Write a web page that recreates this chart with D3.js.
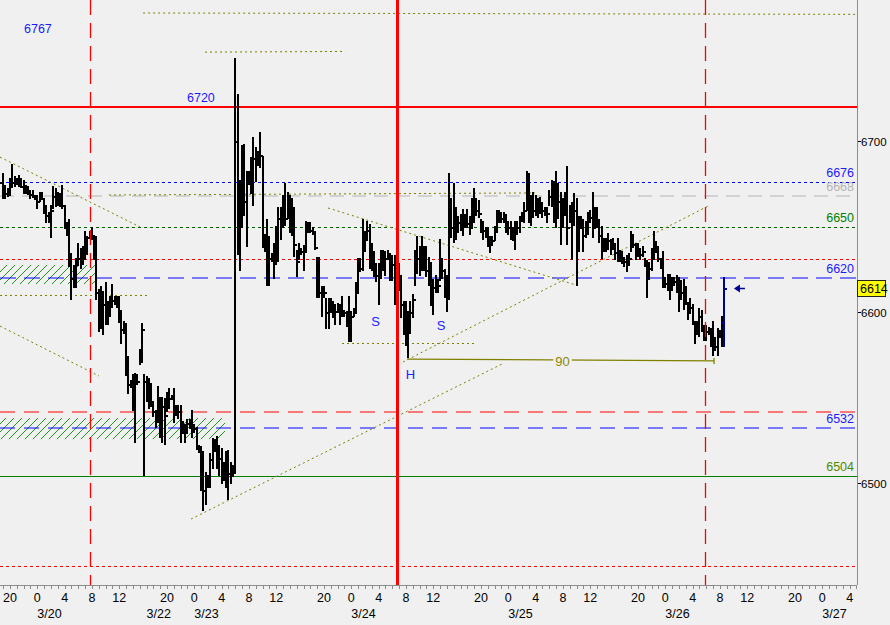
<!DOCTYPE html>
<html><head><meta charset="utf-8">
<script src="https://cdn.jsdelivr.net/npm/d3@7/dist/d3.min.js"></script>
<style>body{margin:0;background:#f0f0f0;}svg{display:block;}</style>
</head><body>
<svg id="chart" width="890" height="625"></svg>
<script>
// ---------------- DATA ----------------
// 20-minute OHLC bars; time measured in session hours from the first "20" mark
const barStartHour = -1;
const barStepHours = 1 / 3;
const firstOpen = 6676;
const barHigh = [
6681,6674,6672,6678,6686,6679,6678,6680,6678,6677,
6674,6673,6671,6671,6668,6668,6670,6670,6665,6662,
6658,6662,6673,6672,6670,6669,6674,6662,6652,6654,
6634,6627,6631,6640,6637,6638,6647,6644,6647,6649,
6644,6644,6613,6615,6612,6617,6606,6609,6616,6609,
6609,6609,6601,6594,6593,6574,6560,6563,6564,6563,
6578,6593,6563,6562,6561,6558,6547,6542,6556,6550,
6550,6549,6553,6555,6551,6555,6545,
6545,6545,6536,6534,6537,6537,6542,6534,6532,6522,6521,6518,6506,6504,6517,6526,6525,6527,6522,6520,6512,6518,6519,6512,6510,6748,
6727,6677,6697,6698,6682,6682,6690,6702,6696,6694,
6705,6691,6645,6654,6644,6634,6640,6650,6661,6661,
6668,6675,6670,6668,6666,6661,6636,6640,6637,6639,
6653,6652,6652,6649,6647,6632,6632,6615,6615,6608,
6608,6608,6606,6604,6605,6604,6609,6601,6600,6609,
6600,6602,6617,
6631,6631,6654,6647,6653,6651,6640,6635,6628,6628,
6636,6636,6635,6636,6634,6633,6633,6629,6628,6621,
6606,6606,6600,6606,6610,6636,6644,6638,6644,6638,
6638,6632,6629,6619,6621,6619,6642,6631,6625,6621,
6681,6666,6675,6661,6656,6657,6660,6657,6660,6656,
6666,6672,6666,6665,6654,6653,6649,6649,6644,6644,
6650,6659,6659,6658,6658,6657,6653,6653,6649,6653,
6653,6656,6658,6664,6682,6681,6668,6670,6668,6666,
6667,6664,
6661,6661,6671,6677,6676,6682,6675,6670,6666,6670,
6685,6662,6664,6669,6666,6656,6656,6654,6653,6658,
6659,6670,6661,6661,6654,6650,6643,6643,6646,6642,
6643,6640,6643,6636,6635,6632,6633,6634,6647,6645,
6640,6640,6637,6638,6631,6630,6629,6637,6647,6641,
6638,6631,6635,6620,6622,6622,6620,6620,6621,6620,
6618,6619,6615,6605,6608,6604,6593,6594,6602,6601,
6592,6592,6591,6590,6594,6585,6590,6589,6597,6620
];
const barLow = [
6667,6667,6668,6669,6673,6674,6675,6674,6673,6670,
6670,6669,6667,6668,6666,6661,6665,6666,6658,6653,
6653,6644,6661,6662,6663,6662,6661,6649,6645,6627,
6608,6615,6615,6628,6626,6628,6631,6634,6644,6643,
6631,6608,6589,6591,6587,6593,6593,6598,6603,6605,
6603,6594,6582,6588,6563,6553,6556,6543,6524,6558,
6570,6571,6505,6548,6544,6545,6539,6533,6536,6527,
6524,6523,6542,6544,6549,6536,6540,
6538,6524,6530,6524,6530,6532,6527,6530,6520,6518,6496,6484,6488,6498,6498,6509,6519,6509,6505,6500,6502,6498,6491,6500,6504,6506,
6634,6625,6650,6657,6639,6675,6670,6663,6677,6686,
6685,6638,6636,6616,6616,6630,6620,6628,6630,6643,
6650,6651,6655,6647,6645,6633,6621,6631,6634,6625,
6635,6647,6647,6646,6637,6609,6609,6598,6609,6591,
6591,6600,6597,6593,6600,6593,6598,6598,6592,6583,
6583,6598,6600,
6612,6624,6625,6636,6642,6626,6625,6621,6618,6605,
6620,6625,6622,6631,6619,6619,6605,6625,6613,6597,
6587,6581,6574,6588,6597,6616,6623,6622,6625,6625,
6621,6616,6604,6599,6612,6612,6619,6620,6609,6601,
6608,6644,6641,6643,6647,6648,6645,6650,6650,6646,
6649,6653,6657,6656,6647,6643,6644,6639,6635,6640,
6642,6647,6653,6653,6653,6647,6646,6643,6642,6637,
6646,6647,6654,6653,6660,6653,6651,6656,6657,6656,
6658,6656,
6657,6653,6663,6662,6653,6650,6655,6640,6650,6657,
6640,6653,6631,6651,6616,6636,6650,6636,6644,6646,
6653,6644,6650,6650,6641,6632,6636,6636,6637,6634,
6637,6631,6630,6630,6629,6627,6624,6629,6636,6638,
6631,6633,6631,6633,6627,6609,6620,6625,6631,6635,
6630,6626,6615,6615,6613,6608,6613,6616,6612,6601,
6608,6602,6605,6596,6601,6593,6582,6588,6586,6589,
6584,6584,6587,6580,6575,6578,6575,6586,6580,6580
];
const barClose = [
6674,6670,6669,6676,6676,6677,6676,6678,6674,6672,
6672,6670,6669,6668,6667,6665,6668,6667,6660,6657,
6656,6660,6668,6665,6668,6664,6663,6650,6648,6630,
6620,6620,6628,6632,6634,6636,6640,6644,6645,6645,
6640,6612,6610,6600,6605,6598,6600,6606,6607,6607,
6605,6598,6590,6590,6570,6558,6558,6560,6560,6560,
6575,6590,6560,6555,6558,6548,6542,6538,6550,6535,
6545,6540,6548,6550,6550,6545,6542,
6542,6530,6533,6530,6535,6534,6534,6532,6521,6521,6500,6496,6500,6502,6514,6520,6520,6512,6515,6507,6507,6510,6506,6507,6507,6700,
6640,6667,6690,6665,6680,6678,6685,6690,6688,6691,
6692,6640,6638,6620,6632,6632,6635,6645,6655,6660,
6658,6655,6668,6660,6650,6640,6630,6635,6636,6638,
6652,6650,6648,6647,6638,6630,6612,6610,6612,6600,
6604,6602,6600,6601,6602,6600,6600,6600,6598,6590,
6598,6600,6612,
6628,6626,6640,6645,6648,6630,6632,6628,6622,6625,
6630,6628,6632,6633,6626,6628,6628,6627,6618,6605,
6595,6590,6598,6600,6608,6630,6632,6634,6630,6636,
6625,6620,6610,6615,6618,6616,6630,6625,6615,6618,
6660,6650,6660,6655,6653,6655,6652,6655,6652,6650,
6660,6664,6660,6658,6650,6648,6646,6642,6640,6642,
6648,6655,6656,6655,6656,6650,6650,6646,6645,6650,
6650,6654,6656,6660,6670,6660,6662,6660,6662,6660,
6662,6660,
6659,6658,6668,6672,6660,6670,6665,6660,6662,6665,
6650,6660,6655,6660,6650,6650,6652,6645,6650,6655,
6656,6650,6655,6652,6645,6640,6640,6638,6642,6638,
6640,6635,6634,6632,6632,6630,6628,6632,6640,6640,
6635,6636,6634,6636,6628,6620,6626,6635,6640,6638,
6632,6628,6618,6617,6618,6616,6618,6618,6617,6610,
6612,6610,6606,6600,6603,6595,6588,6590,6598,6592,
6588,6589,6589,6584,6582,6580,6586,6588,6594,6614
];

// axis
const hourLabelOffsets = [0, 4, 8, 12, 16];
const hourLabelTexts = ["20", "0", "4", "8", "12"];
const sessionHours = 23;
const dateLabels = ["3/20", "3/22", "3/23", "3/24", "3/25", "3/26", "3/27"];
const dateHours = [4, 20, 27, 50, 73, 96, 119];
const priceTicks = [6500, 6600, 6700];

// horizontal levels
const levelPrices = [6720, 6676, 6668, 6650, 6631, 6620, 6541.5, 6532, 6504, 6451.5];
const levelLabels = ["6720", "6676", "6668", "6650", "", "6620", "", "6532", "6504", ""];
const topNote = "6767";
const topNotePrice = 6767;

// vertical markers (session hours)
const markerHours = [11.72, 56.69, 101.82];

// trend lines: [hour1, price1, hour2, price2]
const trendHour1 = [-1.465, -1.465, -1.465, 14.5, 19.5, 28.57, 46.59, 57.57, 26.52, 48.64];
const trendPrice1 = [6690.8, 6591.9, 6609.8, 6668.6, 6775.1, 6752.2, 6661.0, 6570.9, 6479.0, 6581.7];
const trendHour2 = [19.05, 13.04, 20.07, 76.9, 123.8, 49.1, 82.92, 102.26, 72.08, 68.12];
const trendPrice2 = [6649.9, 6562.7, 6609.8, 6669.8, 6774.3, 6752.6, 6615.9, 6662.1, 6569.7, 6581.7];

// "90" measured move line
const measureHour1 = 58.16, measureHour2 = 103.14;
const measurePrice1 = 6572.6, measurePrice2 = 6571.5;
const measureText = "90";

// hatched zones
const zoneHour1 = [-1.465, -1.465];
const zoneHour2 = [12.75, 31.5];
const zonePriceTop = [6627.6, 6538.1];
const zonePriceBottom = [6616.5, 6525.8];

// pattern annotations
const annotTexts = ["S", "S", "H"];
const annotHours = [53.55, 63.14, 58.67];
const annotPrices = [6592.2, 6589.6, 6561];

const lastPrice = 6614;

// ---------------- DRAW ----------------
const svg = d3.select("#chart");
const plotW = 857, plotH = 585;
const x = d3.scaleLinear().domain([-1.465, 124.08]).range([0, plotW]);
const y = d3.scaleLinear().domain([6782.7, 6440.4]).range([0, plotH]);
const FONT = "'Liberation Sans', Arial, sans-serif";

svg.append("rect").attr("width", 890).attr("height", 625).attr("fill", "#f0f0f0");

const defs = svg.append("defs");
const pat = defs.append("pattern").attr("id", "hatch").attr("patternUnits", "userSpaceOnUse")
  .attr("width", 8).attr("height", 8);
pat.append("rect").attr("width", 8).attr("height", 8).attr("fill", "#f0f0f0");
pat.append("path").attr("d", "M0,8 L8,0 M-2,2 L2,-2 M6,10 L10,6")
  .attr("stroke", "#0a8a0a").attr("stroke-width", 0.9);
defs.append("clipPath").attr("id", "plotclip").append("rect").attr("width", plotW).attr("height", plotH);

const g = svg.append("g").attr("clip-path", "url(#plotclip)");

// hatched zones
g.selectAll("rect.zone").data(zoneHour1.map((h, i) => i)).join("rect")
  .attr("x", i => x(zoneHour1[i])).attr("width", i => x(zoneHour2[i]) - x(zoneHour1[i]))
  .attr("y", i => y(zonePriceTop[i])).attr("height", i => y(zonePriceBottom[i]) - y(zonePriceTop[i]))
  .attr("fill", "url(#hatch)");

// horizontal levels
const levelStyles = [
  { c: "#ff0000", w: 2, d: null },
  { c: "#0000ff", w: 1, d: "3,3" },
  { c: "#b4b4b4", w: 1.2, d: "14,8" },
  { c: "#006400", w: 1, d: "3,3" },
  { c: "#ff0000", w: 1, d: "3,3" },
  { c: "#0000ff", w: 1.2, d: "16,8" },
  { c: "#ff0000", w: 1.2, d: "15,9" },
  { c: "#0000ff", w: 1.2, d: "15,9" },
  { c: "#008000", w: 1, d: null },
  { c: "#ff0000", w: 1, d: "3,3" }
];
const labelColors = ["#1a1aff", "#1a1aff", "#b4b4b4", "#008000", "", "#1a1aff", "", "#1a1aff", "#4d8a00", ""];
levelPrices.forEach((p, i) => {
  const st = levelStyles[i];
  const yy = Math.round(y(p)) + (st.w === 1 ? 0.5 : 0);
  g.append("line").attr("x1", 0).attr("x2", plotW).attr("y1", yy).attr("y2", yy)
    .attr("stroke", st.c).attr("stroke-width", st.w).attr("stroke-dasharray", st.d);
});

// trend lines
g.selectAll("line.trend").data(trendHour1.map((h, i) => i)).join("line")
  .attr("x1", i => x(trendHour1[i])).attr("y1", i => y(trendPrice1[i]))
  .attr("x2", i => x(trendHour2[i])).attr("y2", i => y(trendPrice2[i]))
  .attr("stroke", "#808000").attr("stroke-width", 1).attr("stroke-dasharray", "2,3");

// measured line with "90"
const mx1 = x(measureHour1), mx2 = x(measureHour2);
const my1 = y(measurePrice1), my2 = y(measurePrice2);
g.append("line").attr("x1", mx1).attr("y1", my1).attr("x2", mx2).attr("y2", my2)
  .attr("stroke", "#808000").attr("stroke-width", 1.3);
g.append("line").attr("x1", mx2).attr("y1", my2 - 3).attr("x2", mx2).attr("y2", my2 + 3)
  .attr("stroke", "#808000").attr("stroke-width", 1.3);
const mt = svg.append("text").attr("x", (mx1 + mx2) / 2 + 2).attr("y", (my1 + my2) / 2 + 5.5)
  .attr("text-anchor", "middle").attr("font-family", FONT).attr("font-size", 13)
  .attr("fill", "#8a8a00").text(measureText);
const bb = mt.node().getBBox();
svg.insert("rect", () => mt.node()).attr("x", bb.x - 2).attr("y", (my1 + my2) / 2 - 1)
  .attr("width", bb.width + 4).attr("height", 3).attr("fill", "#f0f0f0");

// bars
const bars = barHigh.map((h, i) => ({
  t: barStartHour + i * barStepHours, h, l: barLow[i], c: barClose[i],
  o: i ? barClose[i - 1] : firstOpen, last: i === barHigh.length - 1
}));
const bg = g.append("g").attr("shape-rendering", "crispEdges");
bars.forEach(b => {
  const bx = Math.round(x(b.t));
  const col = b.last ? "#000090" : "#000";
  bg.append("line").attr("x1", bx).attr("x2", bx)
    .attr("y1", Math.round(y(b.h)) - 1).attr("y2", Math.round(y(b.l)) + 1)
    .attr("stroke", col).attr("stroke-width", 2);
  bg.append("line").attr("x1", bx - 3).attr("x2", bx).attr("y1", Math.round(y(b.o)) + 1).attr("y2", Math.round(y(b.o)) + 1)
    .attr("stroke", col).attr("stroke-width", 2);
  bg.append("line").attr("x1", bx).attr("x2", bx + 3).attr("y1", Math.round(y(b.c)) + 1).attr("y2", Math.round(y(b.c)) + 1)
    .attr("stroke", col).attr("stroke-width", 2);
});

// vertical markers
const markerStyles = [
  { w: 1.3, d: "15,8" },
  { w: 3, d: null },
  { w: 1.3, d: "15,8" }
];
markerHours.forEach((h, i) => {
  const xx = Math.round(x(h)) + 0.5;
  g.append("line").attr("x1", xx).attr("x2", xx).attr("y1", 0).attr("y2", plotH)
    .attr("stroke", "#ff0000").attr("stroke-width", markerStyles[i].w)
    .attr("stroke-dasharray", markerStyles[i].d);
});

// level labels
levelPrices.forEach((p, i) => {
  if (!levelLabels[i]) return;
  const isLeft = i === 0;
  svg.append("text")
    .attr("x", isLeft ? x(25.93) : 854)
    .attr("y", y(p) - 5)
    .attr("text-anchor", isLeft ? "start" : "end")
    .attr("font-family", FONT).attr("font-size", 12.5)
    .attr("fill", labelColors[i]).text(levelLabels[i]);
});
svg.append("text").attr("x", x(2.05)).attr("y", y(topNotePrice) + 6)
  .attr("font-family", FONT).attr("font-size", 12.5).attr("fill", "#1a1aff").text(topNote);

// S / H annotations
annotTexts.forEach((s, i) => {
  svg.append("text").attr("x", x(annotHours[i])).attr("y", y(annotPrices[i]))
    .attr("text-anchor", "middle").attr("font-family", FONT).attr("font-size", 13)
    .attr("fill", "#2222ff").text(s);
});

// last-price arrow
const ax = x(106.2), ay = Math.round(y(lastPrice)) + 0.5;
svg.append("path").attr("d", `M${ax - 1},${ay} L${ax + 5},${ay - 4} L${ax + 5},${ay + 4} Z`).attr("fill", "#000090");
svg.append("line").attr("x1", ax + 4).attr("x2", ax + 10).attr("y1", ay).attr("y2", ay)
  .attr("stroke", "#000090").attr("stroke-width", 1.5);

// axes
const axisCol = "#8c8c8c";
svg.append("line").attr("x1", plotW + 0.5).attr("x2", plotW + 0.5).attr("y1", 0).attr("y2", plotH)
  .attr("stroke", axisCol).attr("stroke-width", 1);
svg.append("line").attr("x1", 0).attr("x2", plotW).attr("y1", plotH + 0.5).attr("y2", plotH + 0.5)
  .attr("stroke", axisCol).attr("stroke-width", 1);
d3.range(-1, 125).forEach(h => {
  const xx = Math.round(x(h)) + 0.5;
  if (xx > plotW) return;
  svg.append("line").attr("x1", xx).attr("x2", xx).attr("y1", plotH + 1).attr("y2", plotH + 4)
    .attr("stroke", axisCol).attr("stroke-width", 1);
});
d3.range(0, 6).forEach(k => {
  hourLabelOffsets.forEach((off, j) => {
    const h = k * sessionHours + off;
    if (x(h) > plotW) return;
    svg.append("text").attr("x", x(h)).attr("y", 602).attr("text-anchor", "middle")
      .attr("font-family", FONT).attr("font-size", 12.5).attr("fill", "#000").text(hourLabelTexts[j]);
  });
});
dateLabels.forEach((d, i) => {
  svg.append("text").attr("x", x(dateHours[i])).attr("y", 618)
    .attr("font-family", FONT).attr("font-size", 12.5).attr("fill", "#000").text(d);
});
priceTicks.forEach(p => {
  const yy = Math.round(y(p)) + 0.5;
  svg.append("line").attr("x1", plotW + 1).attr("x2", plotW + 4).attr("y1", yy).attr("y2", yy)
    .attr("stroke", "#000").attr("stroke-width", 1);
  svg.append("text").attr("x", plotW + 4).attr("y", yy + 4.5)
    .attr("font-family", FONT).attr("font-size", 11.5).attr("fill", "#000").text(p);
});

// last price box
const ly = y(lastPrice);
svg.append("rect").attr("x", plotW + 0.5).attr("y", Math.round(ly) - 7.5).attr("width", 28).attr("height", 16)
  .attr("fill", "#ffff00").attr("stroke", "#222").attr("stroke-width", 1);
svg.append("text").attr("x", plotW + 3).attr("y", Math.round(ly) + 5)
  .attr("font-family", FONT).attr("font-size", 12.5).attr("fill", "#000").text(lastPrice);
</script>
</body></html>
